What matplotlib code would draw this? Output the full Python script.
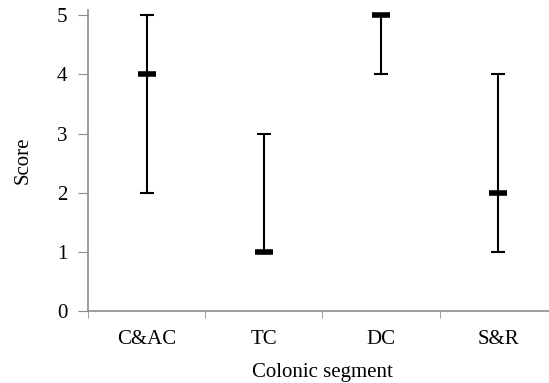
import matplotlib.pyplot as plt
import numpy as np

# Score ranges per colonic segment
segments = ["C&AC", "TC", "DC", "S&R"]
score_min = [2, 1, 4, 1]
score_max = [5, 3, 5, 4]
score_median = [4, 1, 5, 2]

plt.rcParams["font.family"] = ["Liberation Serif", "DejaVu Serif"]

fig = plt.figure(figsize=(5.49, 3.83), dpi=100)
ax = fig.add_axes([88 / 549, 72 / 383, 469 / 549, 301 / 383])

x = np.arange(len(segments))
med = np.array(score_median)
lo = med - np.array(score_min)
hi = np.array(score_max) - med

ax.errorbar(x, med, yerr=[lo, hi], fmt="none", ecolor="black",
            elinewidth=1.5, capsize=5, capthick=1.5)
ax.plot(x, med, linestyle="none", marker="_", markersize=12.5,
        markeredgewidth=4, color="black")

ax.set_xlim(-0.5, 3.5)
ax.set_ylim(0, 5.09)
ax.set_yticks(range(6))
ax.set_xticks(x)
ax.set_xticklabels(segments)
ax.set_xticks(np.arange(-0.5, 4, 1), minor=True)

for s in ["top", "right"]:
    ax.spines[s].set_visible(False)
for s in ["left", "bottom"]:
    ax.spines[s].set_color("#8c8c8c")
    ax.spines[s].set_linewidth(1.2)

ax.tick_params(axis="y", direction="out", length=7, color="#8c8c8c",
               labelsize=15, pad=8)
ax.tick_params(axis="x", which="major", length=0, labelsize=15, pad=14)
ax.tick_params(axis="x", which="minor", direction="out", length=5,
               color="#8c8c8c")

ax.set_xlabel("Colonic segment", fontsize=15, labelpad=10)
ax.set_ylabel("Score", fontsize=15, labelpad=17)

fig.savefig("out.png", dpi=100)
